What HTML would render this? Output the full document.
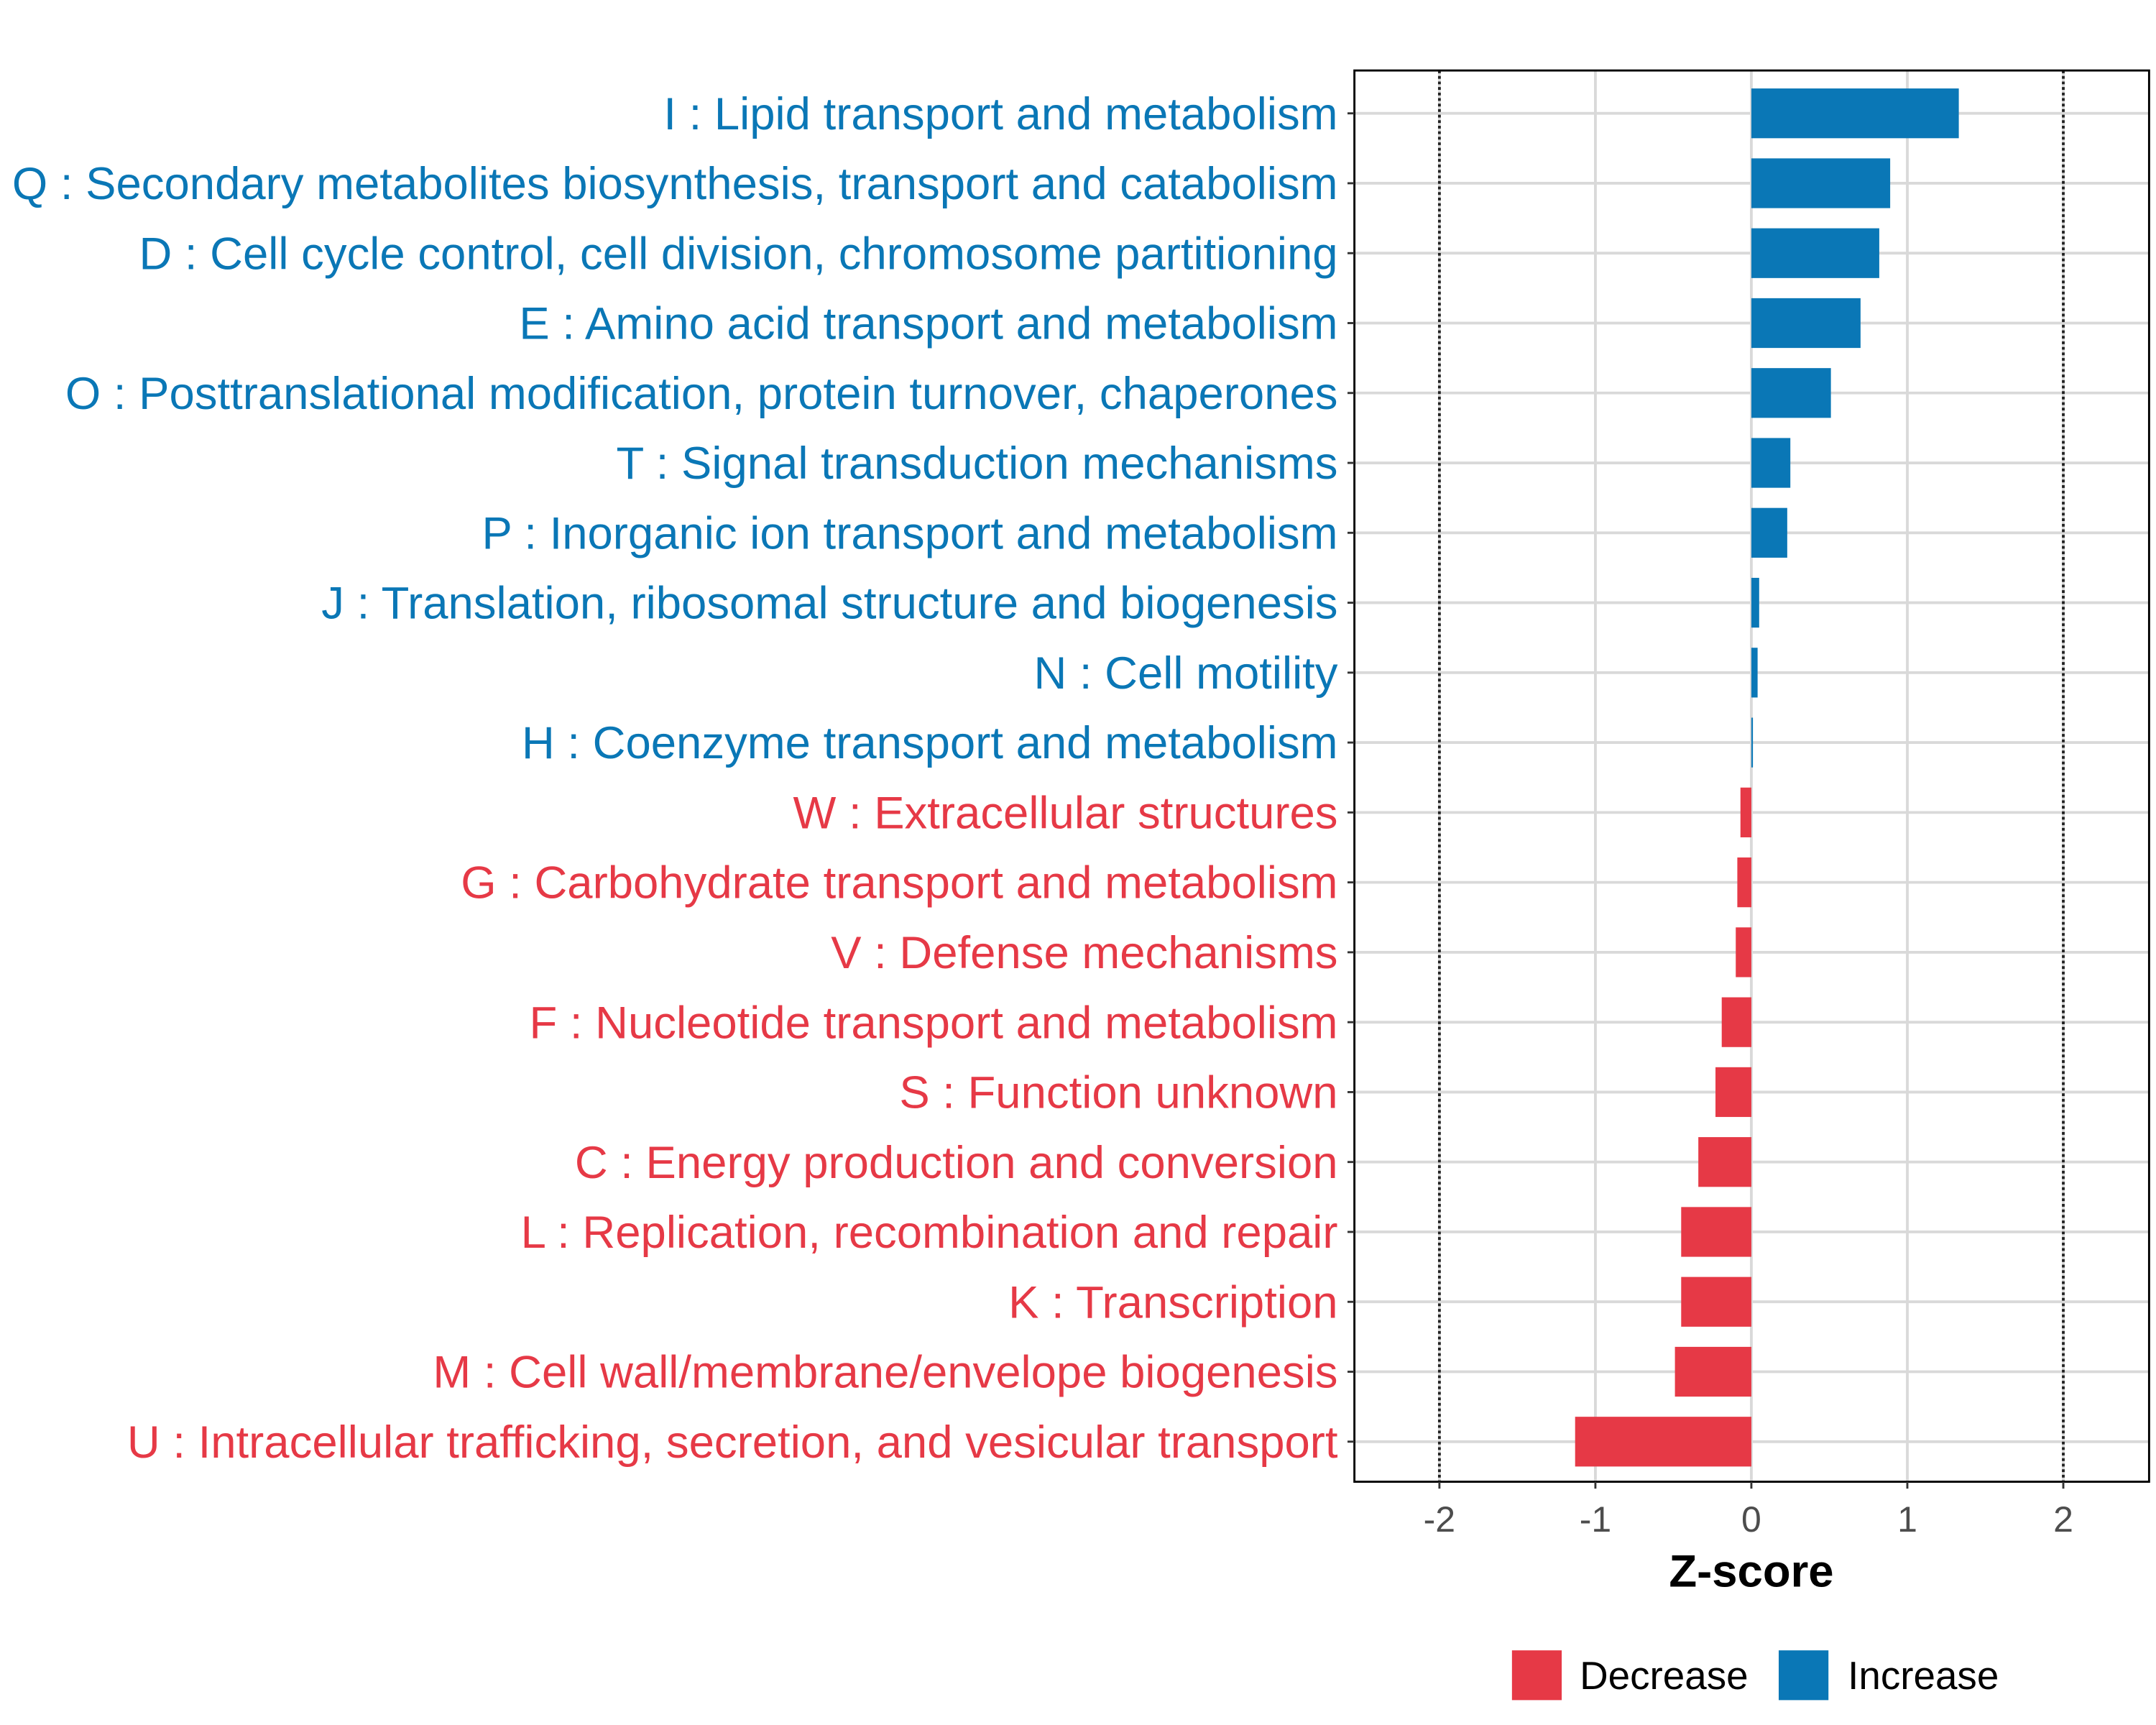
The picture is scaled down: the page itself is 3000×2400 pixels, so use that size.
<!DOCTYPE html>
<html><head><meta charset="utf-8"><style>html,body{margin:0;padding:0;background:#fff}svg{display:block}text{font-family:"Liberation Sans",sans-serif}</style></head>
<body>
<svg id="chart" width="3000" height="2400" viewBox="0 0 1560 1248" xmlns="http://www.w3.org/2000/svg"></svg>
<script>
const categories = ["I : Lipid transport and metabolism","Q : Secondary metabolites biosynthesis, transport and catabolism","D : Cell cycle control, cell division, chromosome partitioning","E : Amino acid transport and metabolism","O : Posttranslational modification, protein turnover, chaperones","T : Signal transduction mechanisms","P : Inorganic ion transport and metabolism","J : Translation, ribosomal structure and biogenesis","N : Cell motility","H : Coenzyme transport and metabolism","W : Extracellular structures","G : Carbohydrate transport and metabolism","V : Defense mechanisms","F : Nucleotide transport and metabolism","S : Function unknown","C : Energy production and conversion","L : Replication, recombination and repair","K : Transcription","M : Cell wall/membrane/envelope biogenesis","U : Intracellular trafficking, secretion, and vesicular transport"];
const zscores = [1.33,0.89,0.82,0.70,0.51,0.25,0.23,0.05,0.04,0.01,-0.07,-0.09,-0.10,-0.19,-0.23,-0.34,-0.45,-0.45,-0.49,-1.13];
const xTicks = [-2,-1,0,1,2];
const xTickLabels = ["-2","-1","0","1","2"];

const svg = document.getElementById('chart');
const NS = 'http://www.w3.org/2000/svg';
const BLUE = '#0A77B6', RED = '#E63946';
const PL = 980, PR = 1555, PT = 51, PB = 1072;
const xMin = -2.545, xMax = 2.55;
const xs = v => PL + (v - xMin) / (xMax - xMin) * (PR - PL);
const yTop = 82, yStep = (1043 - 82) / (categories.length - 1);
const ys = i => yTop + i * yStep;
function mk(tag, attrs, parent) {
  const e = document.createElementNS(NS, tag);
  for (const k in attrs) e.setAttribute(k, attrs[k]);
  (parent || svg).appendChild(e);
  return e;
}
xTicks.forEach((t, i) => {
  const l = mk('line', {x1: xs(t), x2: xs(t), y1: PT, y2: PB, stroke: '#d9d9d9', 'stroke-width': 2});
  
  
});
categories.forEach((c, i) => {
  const l = mk('line', {x1: PL, x2: PR, y1: ys(i), y2: ys(i), stroke: '#d9d9d9', 'stroke-width': 2});
  
  
});
const bh = 36;
zscores.forEach((v, i) => {
  const x0 = xs(Math.min(0, v)), x1 = xs(Math.max(0, v));
  const r = mk('rect', {x: x0, y: ys(i) - bh / 2, width: Math.max(1, x1 - x0), height: bh, fill: v >= 0 ? BLUE : RED});
  
  
});
[-2, 2].forEach(t => {
  const l = mk('line', {x1: xs(t), x2: xs(t), y1: PT, y2: PB, stroke: '#222', 'stroke-width': 2, 'stroke-dasharray': '2,2'});
  
  
});
const b = mk('rect', {x: PL, y: PT, width: PR - PL, height: PB - PT, fill: 'none', stroke: '#000', 'stroke-width': 1.5});


categories.forEach((c, i) => {
  mk('line', {x1: PL - 5, x2: PL, y1: ys(i), y2: ys(i), stroke: '#333', 'stroke-width': 1.5});
  const t = mk('text', {x: PL - 12, y: ys(i) + 11.5, 'text-anchor': 'end', 'font-size': 33, fill: zscores[i] >= 0 ? BLUE : RED});
  t.textContent = c;
  
  
});
xTicks.forEach((v, i) => {
  mk('line', {x1: xs(v), x2: xs(v), y1: PB, y2: PB + 5, stroke: '#333', 'stroke-width': 1.5});
  const t = mk('text', {x: xs(v), y: PB + 36, 'text-anchor': 'middle', 'font-size': 26, fill: '#4D4D4D'});
  t.textContent = xTickLabels[i];
  
  
});
const xt = mk('text', {x: xs(0), y: 1148, 'text-anchor': 'middle', 'font-size': 33, 'font-weight': 'bold', fill: '#000'});
xt.textContent = 'Z-score';


[[1094, RED, 'Decrease', 1143], [1287, BLUE, 'Increase', 1337]].forEach(([x, col, lab, tx]) => {
  const r = mk('rect', {x: x, y: 1194, width: 36, height: 36, fill: col});
  
  
  const t = mk('text', {x: tx, y: 1222, 'font-size': 28.5, fill: '#000'});
  t.textContent = lab;
  
  
});
</script>
</body></html>
